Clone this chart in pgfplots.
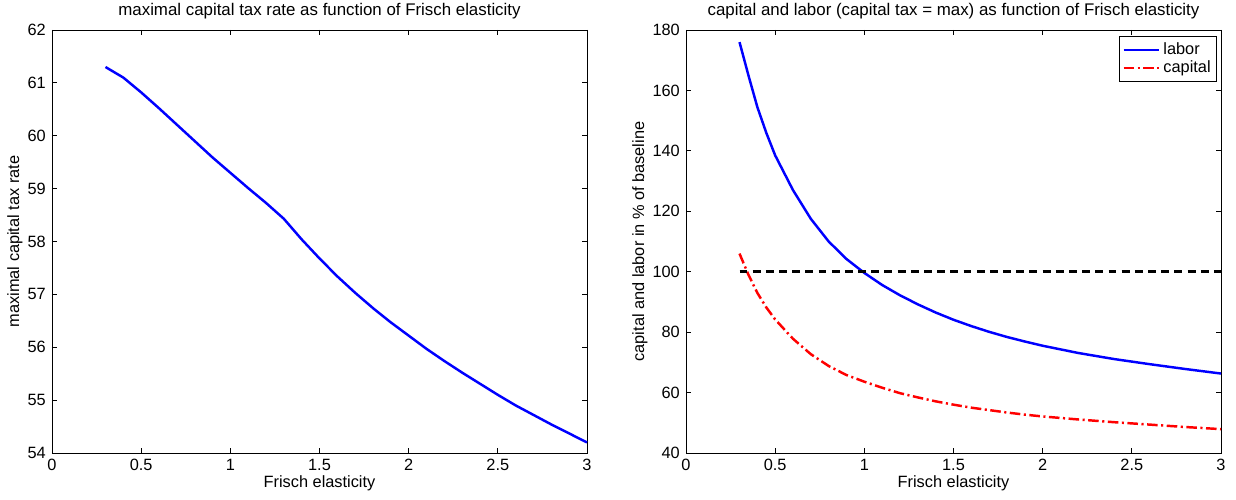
\documentclass[border=0pt]{standalone}
\usepackage{fontspec}
\setmainfont{Liberation Sans}
\usepackage{pgfplots}
\pgfplotsset{compat=1.18}

\pgfplotsset{
  matlab/.style={
    scale only axis,
    width=10.7cm, height=8.46cm,
    xmin=0, xmax=3,
    xtick={0,0.5,...,3},
    tick align=inside,
    major tick length=0.1cm,
    axis line style={line width=0.5pt},
    every tick/.style={line width=0.5pt, black},
    /pgf/number format/assume math mode=true,
    ticklabel style={font=\fontsize{9.3}{11}\selectfont},
    label style={font=\fontsize{9.3}{11}\selectfont},
    title style={font=\fontsize{9.6}{11}\selectfont, yshift=-3.5pt},
    xlabel={Frisch elasticity},
    xlabel style={yshift=4pt},
    ylabel style={yshift=-4pt},
    clip=false,
  }
}

\pgfplotstableread{
x     tau
0.3   61.30
0.4   61.10
0.5   60.82
0.6   60.52
0.7   60.21
0.8   59.90
0.9   59.59
1.0   59.30
1.1   59.01
1.2   58.73
1.3   58.43
1.4   58.04
1.5   57.68
1.6   57.34
1.7   57.03
1.8   56.74
1.9   56.47
2.0   56.22
2.1   55.97
2.2   55.74
2.3   55.52
2.4   55.31
2.5   55.10
2.6   54.90
2.7   54.72
2.8   54.54
2.9   54.37
3.0   54.20
}\taxtable

\pgfplotstableread{
x     labor  capital
0.3   176.0  106.0
0.35  165.0   99.0
0.4   154.5   93.0
0.45  146.0   88.2
0.5   138.5   84.2
0.6   127.0   77.8
0.7   117.5   72.7
0.8   110.0   68.8
0.9   104.2   65.8
1.0   99.6    63.6
1.1   95.6    61.6
1.2   92.2    59.8
1.3   89.2    58.4
1.4   86.5    57.1
1.5   84.1    56.0
1.6   82.0    55.0
1.7   80.1    54.2
1.8   78.4    53.4
1.9   76.9    52.7
2.0   75.5    52.1
2.2   73.1    51.1
2.4   71.1    50.2
2.6   69.4    49.4
2.8   67.8    48.6
3.0   66.3    47.9
}\factortable

\begin{document}
\begin{tikzpicture}[font=\fontsize{9.3}{11}\selectfont]
\path[use as bounding box] (-1.04,-0.92) rectangle (23.68,9.06);

\begin{axis}[matlab,
  ymin=54, ymax=62, ytick={54,55,...,62},
  title={maximal capital tax rate as function of Frisch elasticity},
  ylabel={maximal capital tax rate},
]
\addplot[blue, line width=1.4pt] table[x=x, y=tau] {\taxtable};
\end{axis}

\begin{axis}[matlab, xshift=12.68cm,
  ymin=40, ymax=180, ytick={40,60,...,180},
  title={capital and labor (capital tax = max) as function of Frisch elasticity},
  ylabel={capital and labor in \% of baseline},
  legend style={at={(0.993,0.985)}, anchor=north east, draw=black,
    line width=0.5pt, font=\fontsize{9.3}{11}\selectfont,
    inner sep=1.5pt, row sep=-2pt, cells={anchor=west}},
  legend image code/.code={\draw[#1] (0cm,0cm) -- (0.7cm,0cm);},
]
\addplot[blue, line width=1.4pt] table[x=x, y=labor] {\factortable};
\addlegendentry{labor}
\addplot[red, line width=1.4pt, dash pattern=on 6pt off 2pt on 1.2pt off 2pt] table[x=x, y=capital] {\factortable};
\addlegendentry{capital}
\addplot[black, line width=1.4pt, dash pattern=on 4.5pt off 3pt, forget plot] coordinates {(0.3,100) (3,100)};
\end{axis}
\end{tikzpicture}
\end{document}
